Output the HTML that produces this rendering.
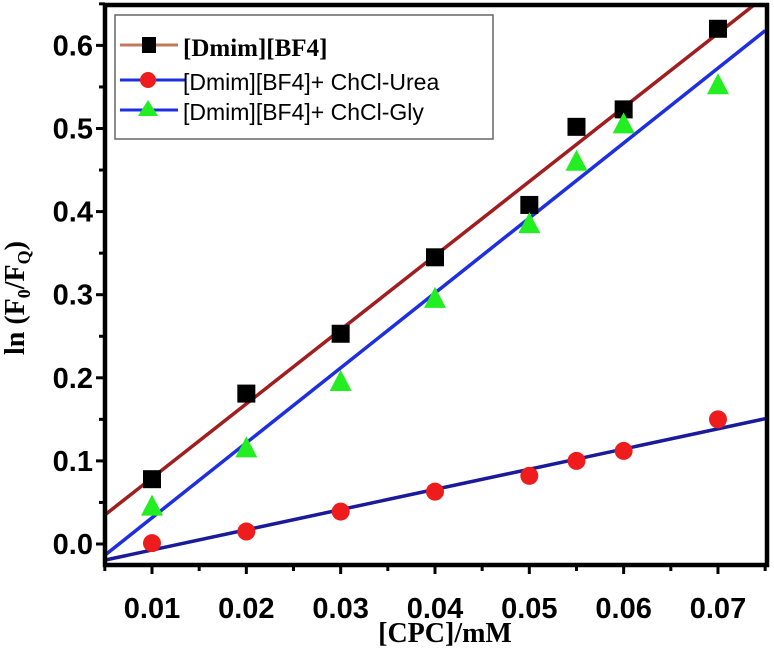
<!DOCTYPE html>
<html><head><meta charset="utf-8"><style>
body{margin:0;background:#fff}
svg{display:block}
</style></head><body>
<svg id="c" width="774" height="650" xmlns="http://www.w3.org/2000/svg"></svg>
<script>
const xCats=[0.01,0.02,0.03,0.04,0.05,0.055,0.06,0.07];
const dmim=[0.078,0.181,0.253,0.345,0.408,0.502,0.523,0.62];
const urea=[0.001,0.015,0.039,0.063,0.082,0.1,0.112,0.15];
const gly=[0.045,0.115,0.195,0.295,0.385,0.46,0.505,0.552];
const xTicks=[0.01,0.02,0.03,0.04,0.05,0.06,0.07];
const yTicks=[0.0,0.1,0.2,0.3,0.4,0.5,0.6];

const L=105,R=767,T=5,B=565;
const X=v=>152+(v-0.01)/0.01*94.33;
const Y=v=>544-v/0.1*83.1;
const svg=document.getElementById('c');
const NS='http://www.w3.org/2000/svg';
function mk(tag,attrs,parent){const e=document.createElementNS(NS,tag);for(const k in attrs)e.setAttribute(k,attrs[k]);(parent||svg).appendChild(e);return e;}
function fit(xs,ys){const n=xs.length;let sx=0,sy=0,sxx=0,sxy=0;for(let i=0;i<n;i++){sx+=xs[i];sy+=ys[i];sxx+=xs[i]*xs[i];sxy+=xs[i]*ys[i];}const b=(n*sxy-sx*sy)/(n*sxx-sx*sx);return [b,(sy-b*sx)/n];}

const clip=mk('clipPath',{id:'pc'});mk('rect',{x:L,y:T,width:R-L,height:B-T},clip);
const x0=0.005,x1=0.075;
const series=[[dmim,'#a01e1e','square','dmim'],[gly,'#1e2fe0','tri','gly'],[urea,'#1a1a9a','circ','urea']];
series.forEach(s=>{const [b,a]=fit(xCats,s[0]);
 const l=mk('line',{x1:X(x0),y1:Y(a+b*x0),x2:X(x1),y2:Y(a+b*x1),stroke:s[1],'stroke-width':3.5,'clip-path':'url(#pc)'});
 
 
});
xCats.forEach((x,i)=>{
 let e=mk('rect',{x:X(x)-9,y:Y(dmim[i])-9,width:18,height:18,fill:'#000'});
 
 
 e=mk('polygon',{points:`${X(x)},${Y(gly[i])-12} ${X(x)-11},${Y(gly[i])+9} ${X(x)+11},${Y(gly[i])+9}`,fill:'#22ee22'});
 
 
 e=mk('ellipse',{cx:X(x),cy:Y(urea[i]),rx:9,ry:9,fill:'#ee1c1c'});
 
 
});
const fr=mk('rect',{x:L,y:T,width:R-L,height:B-T,fill:'none',stroke:'#000','stroke-width':4.5});


xTicks.forEach(t=>{mk('line',{x1:X(t),y1:B,x2:X(t),y2:B+9,stroke:'#000','stroke-width':3});
 mk('line',{x1:X(t+0.005),y1:B,x2:X(t+0.005),y2:B+6,stroke:'#000','stroke-width':3});
 const tx=mk('text',{x:X(t),y:618,'text-anchor':'middle','font-family':'Liberation Sans, sans-serif','font-weight':'bold','font-size':29});
 tx.textContent=t.toFixed(2);
 
 
});
mk('line',{x1:X(0.005),y1:B,x2:X(0.005),y2:B+6,stroke:'#000','stroke-width':3});
yTicks.forEach(t=>{mk('line',{x1:L-9,y1:Y(t),x2:L,y2:Y(t),stroke:'#000','stroke-width':3});
 mk('line',{x1:L-6,y1:Y(t+0.05),x2:L,y2:Y(t+0.05),stroke:'#000','stroke-width':3});
 const tx=mk('text',{x:L-12,y:Y(t)+10,'text-anchor':'end','font-family':'Liberation Sans, sans-serif','font-weight':'bold','font-size':29});
 tx.textContent=t.toFixed(1);
 
 
});
</script>
<svg style="position:absolute;left:0;top:0" width="774" height="650" xmlns="http://www.w3.org/2000/svg">
<text x="445" y="642" text-anchor="middle" font-family="Liberation Serif, serif" font-weight="bold" font-size="28">[CPC]/mM</text>
<text transform="translate(24,298) rotate(-90)" text-anchor="middle" font-family="Liberation Serif, serif" font-weight="bold" font-size="28">ln (F<tspan font-size="18" dy="6">0</tspan><tspan dy="-6">/F</tspan><tspan font-size="18" dy="6">Q</tspan><tspan dy="-6">)</tspan></text>
<g>
<rect x="115" y="15" width="378" height="124" fill="#fff" stroke="#666" stroke-width="1.5"/>
<line x1="120" y1="45" x2="178" y2="45" stroke="#c07a5a" stroke-width="3"/>
<rect x="142" y="37" width="14" height="16" fill="#000"/>
<text x="183" y="56" font-family="Liberation Serif, serif" font-weight="bold" font-size="25">[Dmim][BF4]</text>
<line x1="120" y1="80" x2="185" y2="80" stroke="#1e2fe0" stroke-width="3"/>
<circle cx="148" cy="80" r="8" fill="#ee1c1c"/>
<text x="183" y="90" font-family="Liberation Sans, sans-serif" font-size="23">[Dmim][BF4]+ ChCl-Urea</text>
<line x1="120" y1="110" x2="178" y2="110" stroke="#1e2fe0" stroke-width="3"/>
<polygon points="148,100 138,116 158,116" fill="#22ee22"/>
<text x="183" y="120" font-family="Liberation Sans, sans-serif" font-size="23">[Dmim][BF4]+ ChCl-Gly</text>
</g>
</svg>
</body></html>
